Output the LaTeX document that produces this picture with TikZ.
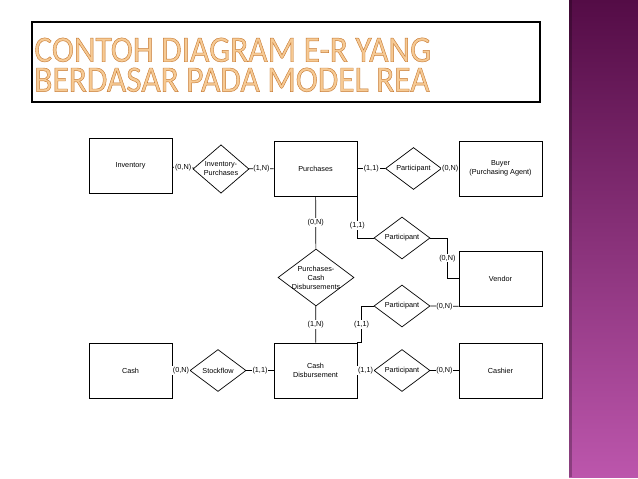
\documentclass[tikz,border=0pt]{standalone}
\usepackage{fontspec}
\setmainfont{Liberation Sans}
\newfontfamily\titlefont{Carlito}
\usepackage{graphicx}
\usepackage{tikz}
\usetikzlibrary{shapes.geometric,positioning}

\definecolor{barTop}{RGB}{84,12,70}
\definecolor{barMid}{RGB}{132,46,117}
\definecolor{barBot}{RGB}{188,86,172}
\definecolor{titleFill}{RGB}{246,202,148}
\newcommand\outlinetext[1]{\special{pdf:literal direct 2 Tr 0.45 w 0.78 0.48 0.2 RG}#1\special{pdf:literal direct 0 Tr}}

\begin{document}
\begin{tikzpicture}[x=1bp, y=-1bp, line width=0.7bp,
  every node/.style={font=\fontsize{7.3}{9}\selectfont},
  entity/.style={draw, minimum width=83bp, minimum height=55bp, align=center},
  rel/.style={draw, diamond, inner sep=0pt, minimum width=56bp, minimum height=42bp, align=center},
  card/.style={fill=white, inner sep=0.8bp}]

\fill[white] (0,0) rectangle (638,479);
\useasboundingbox (0,0) rectangle (638,479);

% side bar
\shade[top color=barTop, middle color=barMid, bottom color=barBot] (569,0) rectangle (638,477);
\fill[black, opacity=0.25] (569,0) rectangle (572,477);

% title
\draw[line width=2.5bp] (32,22) rectangle (540,102);
\node[anchor=north west, inner sep=0pt, align=left, text=titleFill, font={\titlefont\fontsize{37}{30}\selectfont}] (title) at (34,37.5)
  {\scalebox{0.905}[1]{\outlinetext{CONTOH DIAGRAM E-R YANG}}\\
   \scalebox{0.905}[1]{\outlinetext{BERDASAR PADA MODEL REA}}};

% entities
\node[entity] (inv) at (130.5,165.5) {Inventory};
\node[entity] (pur) at (315.5,168.5) {Purchases};
\node[entity] (buyer) at (500.5,168.5) {Buyer\\(Purchasing Agent)};
\node[entity] (vendor) at (500.5,278.5) {Vendor};
\node[entity] (cash) at (130.5,370.5) {Cash};
\node[entity] (cashdis) at (315.5,370.5) {Cash\\Disbursement};
\node[entity] (cashier) at (500.5,370.5) {Cashier};

% relationships
\node[rel] (invpur) at (221,169) {Inventory-\\Purchases};
\node[rel] (partbuyer) at (413.5,168.5) {Participant};
\node[rel] (partvend1) at (402,238) {Participant};
\node[rel] (partvend2) at (402,306) {Participant};
\node[rel] (partcash) at (402,370.5) {Participant};
\node[rel] (stock) at (218,370.5) {Stockflow};
\node[rel, minimum width=76bp, minimum height=57bp, label={[align=center]center:Purchases-\\Cash\\Disbursements}] (purcash) at (316,277.5) {};

% connectors
\draw (inv) -- node[card]{(0,N)} (invpur);
\draw (invpur) -- node[card]{(1,N)} (pur);
\draw (pur) -- node[card]{(1,1)} (partbuyer);
\draw (partbuyer) -- node[card]{(0,N)} (buyer);
\draw (pur) -- node[card]{(0,N)} (purcash);
\draw (purcash) -- node[card]{(1,N)} (cashdis);
\draw (pur.south east) |- node[card, pos=0.35]{(1,1)} (partvend1);
\draw (partvend1.east) -- ++(17,0) |- node[card, pos=0.25]{(0,N)} (vendor.west);
\draw (partvend2.east) -- node[card]{(0,N)} (vendor.south west);
\draw (partvend2.west) -- ++(-12,0) |- node[card, pos=0.25]{(1,1)} (cashdis.north east);
\draw (cash) -- node[card]{(0,N)} (stock);
\draw (stock) -- node[card]{(1,1)} (cashdis);
\draw (cashdis) -- node[card]{(1,1)} (partcash);
\draw (partcash) -- node[card]{(0,N)} (cashier);
\end{tikzpicture}
\end{document}
